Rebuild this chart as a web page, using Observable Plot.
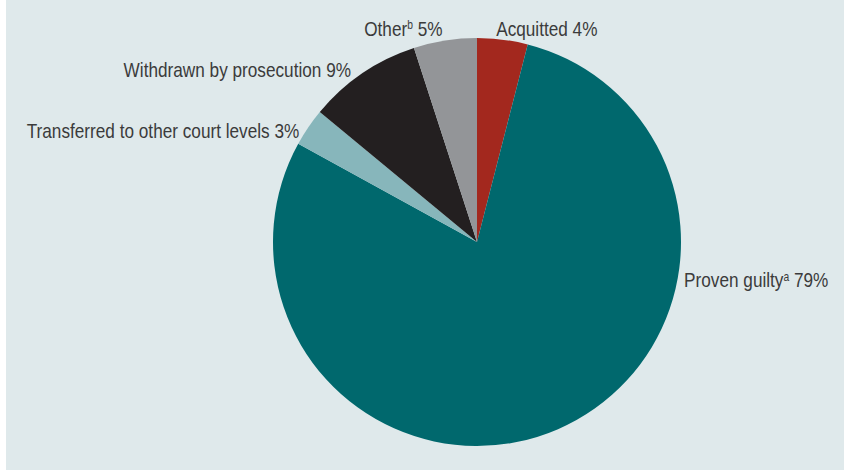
<!DOCTYPE html>
<html><head><meta charset="utf-8">
<script src="https://cdn.jsdelivr.net/npm/d3@7"></script>
<script src="https://cdn.jsdelivr.net/npm/@observablehq/plot@0.6"></script>
<style>
html,body{margin:0;padding:0;background:#fff;}
#chart{position:absolute;left:6px;top:0;width:838px;height:470px;background:#dfe9eb;}
#chart svg{display:block;background:transparent;}
</style></head><body><div id="chart"></div>
<script>
// Data
const categories = ["Acquitted", "Proven guilty", "Transferred to other court levels", "Withdrawn by prosecution", "Other"];
const values = [4, 79, 3, 9, 5];
const superscripts = ["", "a", "", "", "b"];
const colors = ["#a3281e", "#00686d", "#87b6bb", "#231f20", "#939598"];

// Label placement (degrees clockwise from 12 o'clock, radius relative to pie radius)
const labelAngles = [5, 100.5, -58, -36.4, -9.3];
const labelRadii = [1.05, 1.03, 1.03, 1.045, 1.06];

const rows = categories.map((c, i) => ({
  category: c, value: values[i], color: colors[i],
  label: c + (superscripts[i] ? "^" + superscripts[i] : "") + " " + values[i] + "%",
  ax: labelRadii[i] * Math.sin(labelAngles[i] * Math.PI / 180),
  ay: labelRadii[i] * Math.cos(labelAngles[i] * Math.PI / 180)
}));

const cx = 471, cy = 242, R = 204;

const pieMark = (index, scales) => {
  const x0 = scales.x(0), y0 = scales.y(0);
  const r = scales.x(1) - scales.x(0);
  const arcs = d3.pie().sort(null).value(d => d.value)(rows);
  const arc = d3.arc().innerRadius(0).outerRadius(r);
  const g = d3.create("svg:g").attr("transform", `translate(${x0},${y0})`);
  g.selectAll("path").data(arcs).join("path")
    .attr("d", arc).attr("fill", d => d.data.color);
  return g.node();
};

const font = "'Liberation Sans', Arial, sans-serif";

const plot = Plot.plot({
  width: 838, height: 470,
  margin: 0,
  style: {background: "transparent", fontFamily: font},
  x: {domain: [-1, 1], range: [cx - R, cx + R], axis: null},
  y: {domain: [-1, 1], range: [cy + R, cy - R], axis: null},
  marks: [
    pieMark,
    Plot.text(rows.filter(d => d.ax >= 0), {x: "ax", y: "ay", text: "label", textAnchor: "start", fontSize: 20, fill: "#3b3b3b"}),
    Plot.text(rows.filter(d => d.ax < 0), {x: "ax", y: "ay", text: "label", textAnchor: "end", fontSize: 20, fill: "#3b3b3b"})
  ]
});

// superscripts and condensed look
d3.select(plot).selectAll("text").each(function() {
  const el = d3.select(this);
  const tr = el.attr("transform") || "";
  el.attr("transform", tr + " scale(0.86,1)");
  const t = this.textContent;
  const m = t.match(/^(.*)\^(\w)(.*)$/);
  if (!m) return;
  el.text(null);
  el.append("tspan").text(m[1]);
  el.append("tspan").attr("font-size", "0.6em").attr("dy", "-0.55em").text(m[2]);
  el.append("tspan").attr("dy", "0.33em").text(m[3]);
});

document.getElementById("chart").appendChild(plot);
</script></body></html>
